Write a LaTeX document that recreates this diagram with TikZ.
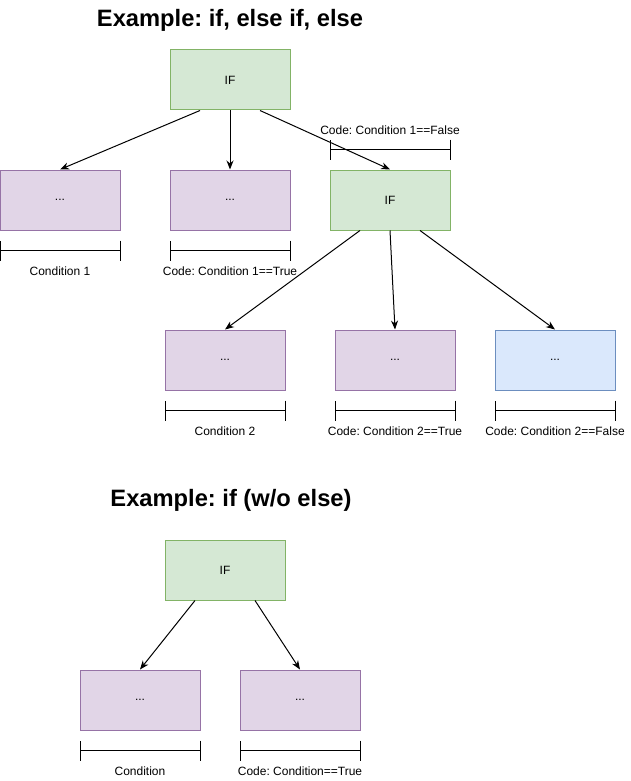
\documentclass[tikz,border=0pt]{standalone}
\usepackage{fontspec}
\setmainfont{Liberation Sans}
\usetikzlibrary{arrows.meta,positioning}
\definecolor{iffill}{HTML}{D5E8D4}
\definecolor{ifline}{HTML}{82B366}
\definecolor{codefill}{HTML}{E1D5E7}
\definecolor{codeline}{HTML}{9673A6}
\definecolor{elsefill}{HTML}{DAE8FC}
\definecolor{elseline}{HTML}{6C8EBF}
\frenchspacing

\begin{document}
\begin{tikzpicture}[
    x=1pt, y=-1pt,
    box/.style={rectangle, draw, line width=1pt, minimum width=120pt, minimum height=60pt, inner sep=0pt, font=\fontsize{12}{14}\selectfont},
    ifbox/.style={box, fill=iffill, draw=ifline},
    codebox/.style={box, fill=codefill, draw=codeline},
    elsebox/.style={box, fill=elsefill, draw=elseline},
    arrow/.style={-{Stealth[length=9pt, width=7pt]}, line width=1pt},
    span/.style={{Bar[width=20pt]}-{Bar[width=20pt]}, line width=1pt},
    spanlabel/.style={font=\fontsize{12}{14}\selectfont, inner sep=0pt},
    title/.style={font=\bfseries\fontsize{23.7}{28}\selectfont}
]
    \useasboundingbox (0,0) rectangle (631,781);

    % if, else if, else
    \node[title] (title1) at (230,20) {Example: if, else if, else};
    \node[ifbox] (if1) at (230,80) {IF};
    \node[codebox] (cond1) at (60,200) {...};
    \node[codebox] (true1) at (230,200) {...};
    \node[ifbox] (if2) at (390,200) {IF};
    \node[codebox] (cond2) at (225,360) {...};
    \node[codebox] (true2) at (395,360) {...};
    \node[elsebox] (false2) at (555,360) {...};

    \draw[arrow] ([xshift=-30pt]if1.south) -- (cond1.north);
    \draw[arrow] (if1.south) -- (true1.north);
    \draw[arrow] ([xshift=30pt]if1.south) -- (if2.north);
    \draw[arrow] ([xshift=-30pt]if2.south) -- (cond2.north);
    \draw[arrow] (if2.south) -- (true2.north);
    \draw[arrow] ([xshift=30pt]if2.south) -- (false2.north);

    \draw[span] ([yshift=-20pt]cond1.south west) -- ([yshift=-20pt]cond1.south east) node[spanlabel, midway, yshift=-21pt] {Condition 1};
    \draw[span] ([yshift=-20pt]true1.south west) -- ([yshift=-20pt]true1.south east) node[spanlabel, midway, yshift=-21pt] {Code: Condition 1==True};
    \draw[span] ([yshift=20pt]if2.north west) -- ([yshift=20pt]if2.north east) node[spanlabel, midway, yshift=19pt] {Code: Condition 1==False};
    \draw[span] ([yshift=-20pt]cond2.south west) -- ([yshift=-20pt]cond2.south east) node[spanlabel, midway, yshift=-21pt] {Condition 2};
    \draw[span] ([yshift=-20pt]true2.south west) -- ([yshift=-20pt]true2.south east) node[spanlabel, midway, yshift=-21pt] {Code: Condition 2==True};
    \draw[span] ([yshift=-20pt]false2.south west) -- ([yshift=-20pt]false2.south east) node[spanlabel, midway, yshift=-21pt] {Code: Condition 2==False};

    % if without else
    \node[title] (title2) at (231,500) {Example: if (w/o else)};
    \node[ifbox] (if3) at (225,570) {IF};
    \node[codebox] (cond3) at (140,700) {...};
    \node[codebox] (true3) at (300,700) {...};

    \draw[arrow] ([xshift=-30pt]if3.south) -- (cond3.north);
    \draw[arrow] ([xshift=30pt]if3.south) -- (true3.north);

    \draw[span] ([yshift=-20pt]cond3.south west) -- ([yshift=-20pt]cond3.south east) node[spanlabel, midway, yshift=-21pt] {Condition};
    \draw[span] ([yshift=-20pt]true3.south west) -- ([yshift=-20pt]true3.south east) node[spanlabel, midway, yshift=-21pt] {Code: Condition==True};
\end{tikzpicture}
\end{document}
